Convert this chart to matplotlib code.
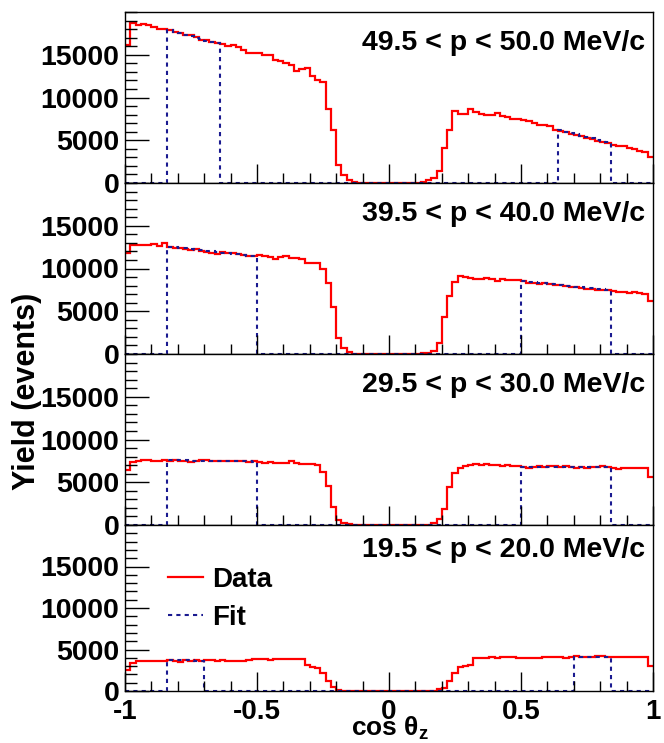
import numpy as np
import matplotlib.pyplot as plt
from matplotlib.ticker import MultipleLocator, FuncFormatter

plt.rcParams['font.family'] = ['Liberation Sans', 'DejaVu Sans']
plt.rcParams['font.weight'] = 'bold'
plt.rcParams['mathtext.fontset'] = 'custom'
plt.rcParams['mathtext.rm'] = 'Liberation Sans'
plt.rcParams['mathtext.bf'] = 'Liberation Sans:bold'

#---------------------data (100 bins in cos theta_z)---------------------
edges = np.linspace(-1.0, 1.0, 101)

labels = ['49.5 < p < 50.0 MeV/c', '39.5 < p < 40.0 MeV/c',
          '29.5 < p < 30.0 MeV/c', '19.5 < p < 20.0 MeV/c']

p50 = [16150, 18700, 18440, 18560, 18440, 18240, 17970, 18050, 17850, 17650,
       17530, 17260, 17260, 17060, 16750, 16670, 16470, 16390, 16270, 16000,
       16150, 15960, 15600, 15210, 15210, 15170, 14970, 15010, 14380, 14300,
       13990, 13790, 13120, 13320, 13400, 12530, 12060, 11820, 8670, 6150,
       2090, 900, 300, 80, 0, 0, 0, 0, 0, 0,
       0, 0, 0, 0, 0, 0, 120, 300, 630, 1380,
       4060, 6230, 8390, 8080, 8120, 8710, 8310, 8080, 7920, 8000,
       8200, 7800, 7680, 7490, 7490, 7410, 7210, 7010, 6820, 6740,
       6700, 6230, 6110, 5950, 5710, 5560, 5440, 5320, 5160, 4960,
       4850, 4730, 4450, 4370, 4330, 4140, 3980, 3740, 3590, 2990]

p40 = [11820, 12800, 12770, 12770, 12800, 12840, 12690, 12960, 12530, 12450,
       12410, 12250, 12210, 12250, 12100, 11900, 11780, 11660, 11900, 11820,
       11820, 11660, 11580, 11500, 11430, 11620, 11500, 11350, 11110, 11310,
       11430, 11270, 11270, 11110, 10640, 10640, 10640, 9930, 8270, 5520,
       1850, 670, 200, 40, 0, 0, 0, 0, 0, 0,
       0, 0, 0, 0, 0, 0, 80, 120, 390, 1300,
       4330, 6780, 8470, 9140, 9020, 8940, 8830, 8830, 8940, 8830,
       8590, 8790, 8670, 8630, 8710, 8550, 8350, 8310, 8200, 8270,
       8160, 8080, 8040, 7960, 7840, 7800, 7680, 7640, 7560, 7490,
       7530, 7490, 7410, 7290, 7210, 7170, 7290, 7170, 7010, 6150]

p30 = [6380, 7370, 7490, 7640, 7560, 7530, 7530, 7600, 7530, 7600,
       7530, 7450, 7370, 7530, 7640, 7560, 7530, 7490, 7530, 7450,
       7490, 7450, 7450, 7370, 7450, 7370, 7290, 7370, 7290, 7210,
       7290, 7450, 7210, 7170, 7130, 7090, 6970, 6190, 4610, 2050,
       590, 280, 120, 0, 0, 0, 0, 0, 0, 0,
       0, 0, 0, 0, 0, 0, 0, 40, 280, 670,
       1850, 4410, 6110, 6700, 6860, 6970, 7130, 6970, 7130, 6970,
       7010, 6900, 6970, 6900, 6930, 6780, 6700, 6820, 6860, 6820,
       6860, 6900, 6820, 6860, 6740, 6700, 6740, 6660, 6740, 6780,
       6860, 6740, 6700, 6580, 6660, 6620, 6660, 6660, 6660, 5670]

p20 = [2560, 3430, 3590, 3620, 3660, 3620, 3620, 3620, 3740, 3660,
       3550, 3740, 3620, 3700, 3620, 3700, 3740, 3660, 3700, 3620,
       3590, 3660, 3660, 3740, 3860, 3820, 3820, 3780, 3860, 3820,
       3860, 3820, 3820, 3860, 3150, 2950, 2760, 2170, 1180, 470,
       80, 0, 0, 0, 0, 0, 0, 0, 0, 0,
       0, 0, 0, 0, 0, 0, 0, 0, 40, 200,
       390, 1180, 2170, 2950, 3070, 3150, 4020, 4020, 3980, 4060,
       4020, 4060, 4060, 4060, 4020, 4020, 4020, 3980, 4020, 4060,
       4060, 4060, 4100, 4020, 4060, 4180, 4060, 4060, 4060, 4180,
       4180, 4140, 4140, 4100, 4100, 4100, 4100, 4100, 4100, 3030]

# fit ranges (cos theta_z) and fitted bin contents inside them
fit_ranges = [[(-0.84, -0.64), (0.64, 0.84)],
              [(-0.84, -0.50), (0.50, 0.84)],
              [(-0.84, -0.50), (0.50, 0.84)],
              [(-0.84, -0.70), (0.70, 0.84)]]

fit50_l = [17900, 17700, 17500, 17330, 17150, 16980, 16820, 16650, 16480, 16320]
fit50_r = [6150, 5990, 5830, 5680, 5530, 5380, 5230, 5080, 4930, 4780]
fit40_l = [12560, 12490, 12420, 12350, 12280, 12210, 12140, 12070, 12000,
           11930, 11860, 11790, 11720, 11650, 11580, 11510, 11440]
fit40_r = [8520, 8460, 8390, 8330, 8260, 8200, 8130, 8070, 8000,
           7940, 7870, 7810, 7740, 7680, 7610, 7550, 7480]
fit30_l = [7580, 7570, 7560, 7550, 7540, 7530, 7520, 7510, 7500,
           7490, 7480, 7470, 7460, 7450, 7440, 7430, 7420]
fit30_r = [6830, 6830, 6820, 6820, 6810, 6810, 6800, 6800, 6790,
           6790, 6780, 6780, 6770, 6770, 6760, 6760, 6750]
fit20_l = [3690, 3690, 3680, 3680, 3680, 3670, 3670]
fit20_r = [4110, 4110, 4120, 4120, 4120, 4130, 4130]

data = [p50, p40, p30, p20]
fits = [(fit50_l, fit50_r), (fit40_l, fit40_r), (fit30_l, fit30_r), (fit20_l, fit20_r)]

#---------------------layout (pixels of the 664x743 canvas)---------------------
W, H = 664, 743
fig = plt.figure(figsize=(W / 100, H / 100), dpi=100)
x0, x1 = 125, 653
pan = [(12, 183), (183, 354), (354, 525), (525, 691)]

red = '#ff0000'
blue = '#1a1a90'
fs = 20.5

for i in range(4):
    top, bot = pan[i]
    ax = fig.add_axes([x0 / W, 1 - bot / H, (x1 - x0) / W, (bot - top) / H])

    ax.stairs(data[i], edges, baseline=None, color=red, lw=1.6, label='Data')

    fit_full = np.zeros(100)
    for (lo, hi), vals in zip(fit_ranges[i], fits[i]):
        k = int(round((lo + 1.0) / 0.02))
        fit_full[k:k + len(vals)] = vals
    ax.stairs(fit_full, edges, baseline=None, color=blue, lw=1.5,
              ls=(0, (2, 2)), label='Fit')

    ax.set_xlim(-1, 1)
    ax.set_ylim(0, 20000)
    ax.xaxis.set_major_locator(MultipleLocator(0.5))
    ax.xaxis.set_minor_locator(MultipleLocator(0.1))
    ax.yaxis.set_minor_locator(MultipleLocator(1000))
    ax.set_yticks([0, 5000, 10000, 15000])
    ax.tick_params(which='both', direction='in', top=False, right=False,
                   labelsize=fs, width=1.0)
    ax.tick_params(axis='y', which='major', length=17, pad=4)
    ax.tick_params(axis='y', which='minor', length=8.5)
    ax.tick_params(axis='x', which='major', length=14, pad=6, labelsize=20)
    ax.tick_params(axis='x', which='minor', length=7)
    for s in ax.spines.values():
        s.set_linewidth(1.0)

    if i < 3:
        ax.tick_params(axis='x', labelbottom=False)
        ty = 0.82
    else:
        ax.xaxis.set_major_formatter(FuncFormatter(lambda v, pos: '%g' % v))
        ty = 0.85
        ax.legend(loc='upper left', bbox_to_anchor=(0.05, 0.85), frameon=False,
                  fontsize=20, handlelength=1.25, handletextpad=0.35,
                  labelspacing=0.45, borderaxespad=0.2)
    ax.text(0.985, ty, labels[i], transform=ax.transAxes, ha='right', va='center',
            fontsize=fs, fontweight='bold')

fig.text(27 / W, 1 - 391 / H, 'Yield (events)', rotation=90, ha='center',
         va='center', fontsize=22, fontweight='bold')
fig.text(390 / W, 1 - 736 / H, r'cos $\mathrm{\theta}_{\mathbf{z}}$', ha='center',
         va='baseline', fontsize=19, fontweight='bold')

fig.savefig('out.png', dpi=100)
